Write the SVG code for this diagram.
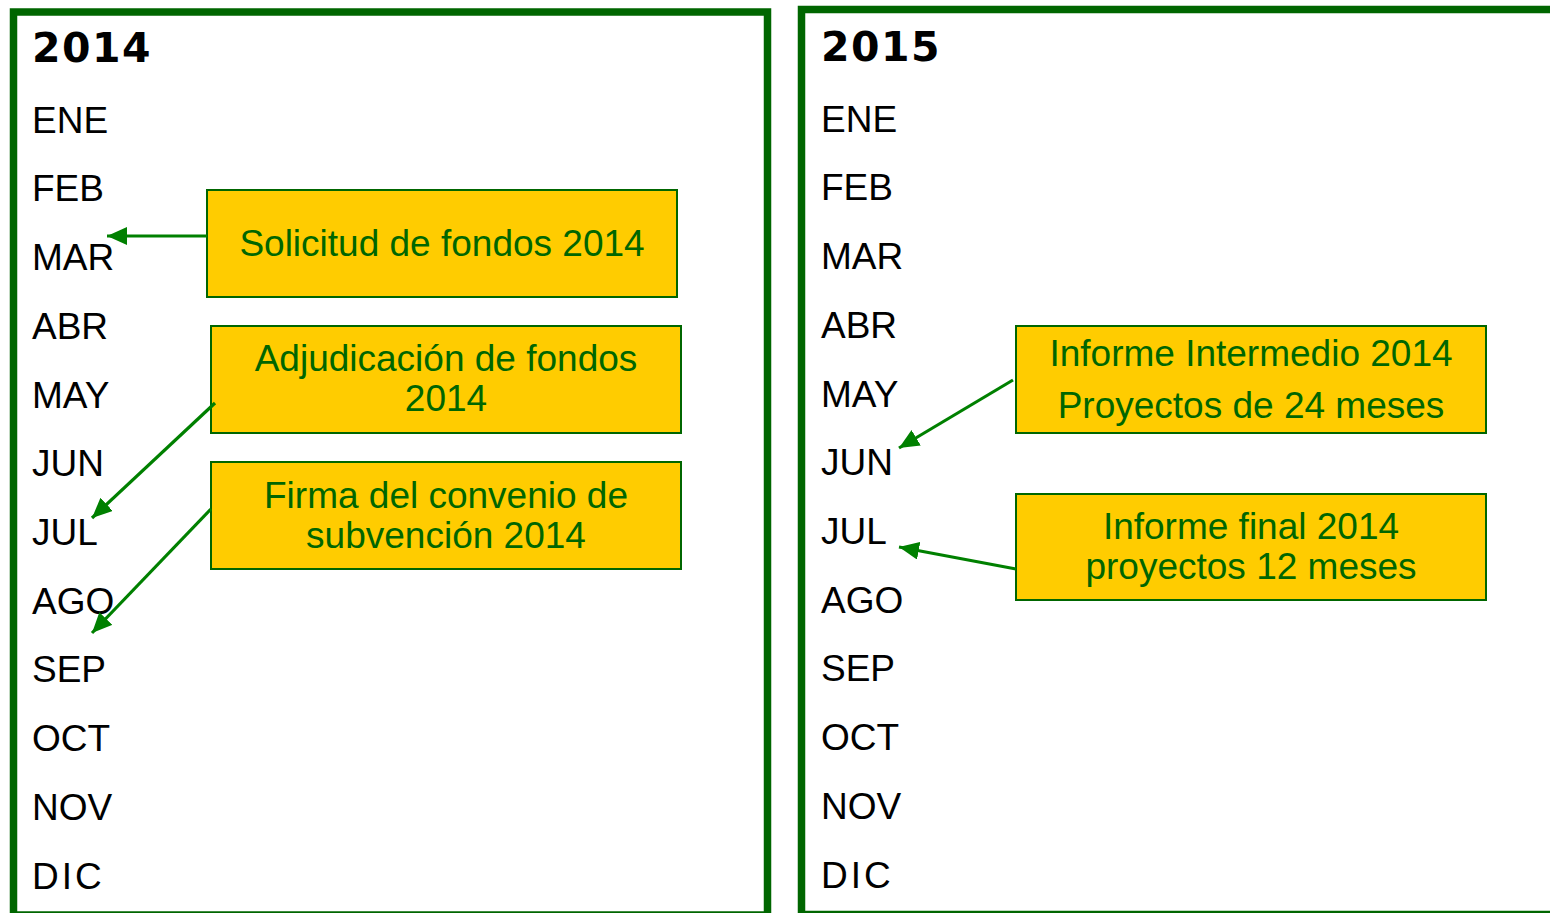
<svg xmlns="http://www.w3.org/2000/svg" width="1550" height="913" viewBox="0 0 1550 913">
<defs>
<style>
.frame{fill:none;stroke:#006600;stroke-width:7.5}
.month{font-family:"Liberation Sans",Arial,sans-serif;font-size:37px;fill:#000}
.wide{letter-spacing:3px}
.year{font-family:"DejaVu Sans",Verdana,sans-serif;font-weight:bold;font-size:41px;letter-spacing:1.5px;fill:#000}
.box{fill:#FFCC00;stroke:#006600;stroke-width:2}
.btxt{font-family:"Liberation Sans",Arial,sans-serif;font-size:37px;fill:#006600;text-anchor:middle}
.conn{stroke:#008000;stroke-width:3.2;fill:none;marker-end:url(#ah)}
</style>
<marker id="ah" markerUnits="userSpaceOnUse" markerWidth="22" markerHeight="18" refX="20" refY="9" orient="auto">
<path d="M0,0 L20,9 L0,18 Z" fill="#008000"/>
</marker>
</defs>
<rect width="1550" height="913" fill="#fff"/>
<g id="frame2014">
<rect class="frame" x="13.5" y="12" width="754" height="903"/>
<text class="year" x="32" y="62">2014</text>
<text class="month" x="32" y="133">ENE</text>
<text class="month" x="32" y="201">FEB</text>
<text class="month" x="32" y="270">MAR</text>
<text class="month" x="32" y="339">ABR</text>
<text class="month" x="32" y="408">MAY</text>
<text class="month" x="32" y="476">JUN</text>
<text class="month" x="32" y="545">JUL</text>
<text class="month" x="32" y="614">AGO</text>
<text class="month" x="32" y="682">SEP</text>
<text class="month" x="32" y="751">OCT</text>
<text class="month" x="32" y="820">NOV</text>
<text class="month wide" x="32" y="889">DIC</text>
</g>
<g id="frame2015">
<rect class="frame" x="801.5" y="9.5" width="760" height="905"/>
<text class="year" x="821" y="61">2015</text>
<text class="month" x="821" y="132">ENE</text>
<text class="month" x="821" y="200">FEB</text>
<text class="month" x="821" y="269">MAR</text>
<text class="month" x="821" y="338">ABR</text>
<text class="month" x="821" y="407">MAY</text>
<text class="month" x="821" y="475">JUN</text>
<text class="month" x="821" y="544">JUL</text>
<text class="month" x="821" y="613">AGO</text>
<text class="month" x="821" y="681">SEP</text>
<text class="month" x="821" y="750">OCT</text>
<text class="month" x="821" y="819">NOV</text>
<text class="month wide" x="821" y="888">DIC</text>
</g>
<g id="box-solicitud">
<rect class="box" x="207" y="190" width="470" height="107"/>
<text class="btxt" x="442" y="256">Solicitud de fondos 2014</text>
</g>
<g id="box-adjudicacion">
<rect class="box" x="211" y="326" width="470" height="107"/>
<text class="btxt" x="446" y="371">Adjudicación de fondos</text>
<text class="btxt" x="446" y="411">2014</text>
</g>
<g id="box-firma">
<rect class="box" x="211" y="462" width="470" height="107"/>
<text class="btxt" x="446" y="508">Firma del convenio de</text>
<text class="btxt" x="446" y="548">subvención 2014</text>
</g>
<g id="box-intermedio">
<rect class="box" x="1016" y="326" width="470" height="107"/>
<text class="btxt" x="1251" y="366">Informe Intermedio 2014</text>
<text class="btxt" x="1251" y="418">Proyectos de 24 meses</text>
</g>
<g id="box-final">
<rect class="box" x="1016" y="494" width="470" height="106"/>
<text class="btxt" x="1251" y="539">Informe final 2014</text>
<text class="btxt" x="1251" y="579">proyectos 12 meses</text>
</g>
<g id="connectors">
<line class="conn" x1="207" y1="236" x2="107" y2="236"/>
<line class="conn" x1="215" y1="403" x2="92" y2="518"/>
<line class="conn" x1="211" y1="509" x2="92" y2="633"/>
<line class="conn" x1="1013" y1="380" x2="899" y2="448"/>
<line class="conn" x1="1016" y1="569" x2="899" y2="547"/>
</g>
</svg>
